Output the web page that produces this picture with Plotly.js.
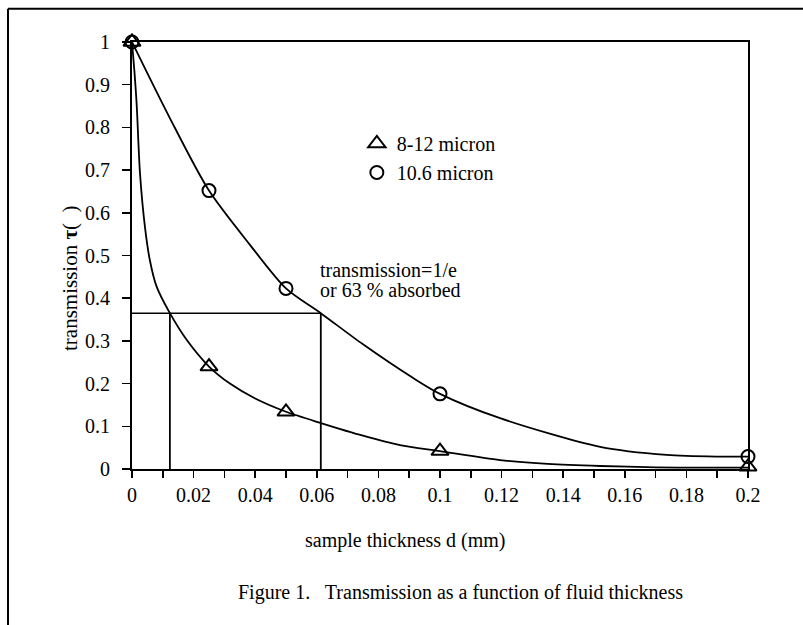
<!DOCTYPE html>
<html>
<head>
<meta charset="utf-8">
<script src="https://cdn.plot.ly/plotly-3.0.1.min.js"></script>
<style>html,body{margin:0;padding:0;background:#fff;}#chart{width:803px;height:625px;}</style>
</head>
<body>
<div id="chart"></div>
<script>
// measured points
var thickness = [0, 0.025, 0.05, 0.1, 0.2];
var trans812 = [1, 0.24, 0.134, 0.042, 0.005];
var trans106 = [1, 0.652, 0.423, 0.176, 0.029];

// fitted curves
var curve812X = [0, 0.0008, 0.0015, 0.0026, 0.0042, 0.0058, 0.008, 0.0123, 0.0178, 0.025, 0.0318, 0.04, 0.05, 0.0616, 0.075, 0.087, 0.1, 0.1195, 0.135, 0.152, 0.17, 0.185, 0.2];
var curve812Y = [1, 0.93, 0.856, 0.692, 0.567, 0.489, 0.427, 0.365, 0.302, 0.24, 0.2, 0.165, 0.134, 0.107, 0.078, 0.056, 0.042, 0.021, 0.012, 0.007, 0.004, 0.003, 0.003];
var curve106X = [0, 0.012, 0.025, 0.0383, 0.05, 0.0613, 0.075, 0.0913, 0.1, 0.1195, 0.152, 0.1736, 0.19, 0.2];
var curve106Y = [1, 0.826, 0.652, 0.525, 0.423, 0.365, 0.292, 0.213, 0.176, 0.119, 0.052, 0.033, 0.029, 0.029];

// 1/e reference lines
var refLevel = 0.365;
var refX812 = 0.0123;
var refX106 = 0.0613;

var legendNames = ['8-12 micron', '10.6 micron'];

var black = '#000';
var serif = 'Liberation Serif, Times New Roman, serif';

var traces = [
  {x: curve812X, y: curve812Y, mode: 'lines', line: {color: black, width: 1.8, shape: 'spline', smoothing: 0.8}, showlegend: false, hoverinfo: 'skip'},
  {x: curve106X, y: curve106Y, mode: 'lines', line: {color: black, width: 1.8, shape: 'spline', smoothing: 0.8}, showlegend: false, hoverinfo: 'skip'},
  {x: [0, refX106], y: [refLevel, refLevel], mode: 'lines', line: {color: black, width: 1.5}, showlegend: false},
  {x: [refX812, refX812], y: [0, refLevel], mode: 'lines', line: {color: black, width: 1.8}, showlegend: false},
  {x: [refX106, refX106], y: [0, refLevel], mode: 'lines', line: {color: black, width: 1.8}, showlegend: false},
  {x: thickness, y: trans812, name: legendNames[0], mode: 'markers', cliponaxis: false,
   marker: {symbol: 'triangle-up-open', size: 15, color: black, line: {width: 2, color: black}}},
  {x: thickness, y: trans106, name: legendNames[1], mode: 'markers', cliponaxis: false,
   marker: {symbol: 'circle-open', size: 13, color: black, line: {width: 2, color: black}}}
];

var layout = {
  width: 803, height: 625,
  margin: {l: 132, r: 55, t: 42, b: 156},
  paper_bgcolor: '#fff', plot_bgcolor: '#fff',
  font: {family: serif, size: 20, color: black},
  showlegend: true,
  legend: {x: 0.365, y: 0.808, xanchor: 'left', yanchor: 'top', bgcolor: 'rgba(0,0,0,0)',
           font: {family: serif, size: 20, color: black}, tracegroupgap: 0, itemwidth: 30},
  xaxis: {
    range: [0, 0.2], tickmode: 'linear', tick0: 0, dtick: 0.01, ticklabelstep: 2,
    ticks: 'outside', ticklen: 7, tickwidth: 1.5, tickcolor: black,
    showline: true, linecolor: black, linewidth: 2, mirror: true,
    showgrid: false, zeroline: false,
    tickfont: {family: serif, size: 20, color: black}
  },
  yaxis: {
    range: [0, 1], tickmode: 'linear', tick0: 0, dtick: 0.1,
    ticks: 'outside', ticklen: 8, tickwidth: 1.5, tickcolor: black,
    showline: true, linecolor: black, linewidth: 2, mirror: true,
    showgrid: false, zeroline: false, ticklabelstandoff: 8,
    tickfont: {family: serif, size: 20, color: black}
  },
  annotations: [
    {xref: 'paper', yref: 'paper', x: (70 - 132) / 616, y: (469 - 278) / 427, text: 'transmission <b>τ</b>(  )', textangle: -90,
     showarrow: false, font: {family: serif, size: 21, color: black}, xanchor: 'center', yanchor: 'middle'},
    {xref: 'paper', yref: 'paper', x: (405 - 132) / 616, y: (469 - 540) / 427, xanchor: 'center', yanchor: 'middle',
     text: 'sample thickness d (mm)', showarrow: false, font: {family: serif, size: 20, color: black}},
    {xref: 'paper', yref: 'paper', x: (318 - 132) / 616, y: (469 - 270) / 427, xanchor: 'left', yanchor: 'middle',
     text: 'transmission=1/e', showarrow: false, font: {family: serif, size: 20, color: black}},
    {xref: 'paper', yref: 'paper', x: (318 - 132) / 616, y: (469 - 290) / 427, xanchor: 'left', yanchor: 'middle',
     text: 'or 63 % absorbed', showarrow: false, font: {family: serif, size: 20, color: black}},
    {xref: 'paper', yref: 'paper', x: (460 - 132) / 616, y: (469 - 592) / 427, xanchor: 'center', yanchor: 'middle',
     text: 'Figure 1.   Transmission as a function of fluid thickness', showarrow: false,
     font: {family: serif, size: 20, color: black}}
  ],
  shapes: [
    {type: 'line', xref: 'paper', yref: 'paper', x0: -0.2013, x1: -0.2013, y0: -0.5, y1: 1.078, line: {color: black, width: 2}},
    {type: 'line', xref: 'paper', yref: 'paper', x0: -0.2013, x1: 1.2, y0: 1.078, y1: 1.078, line: {color: black, width: 2}}
  ]
};

Plotly.newPlot('chart', traces, layout, {displayModeBar: false, staticPlot: true});
</script>
</body>
</html>
